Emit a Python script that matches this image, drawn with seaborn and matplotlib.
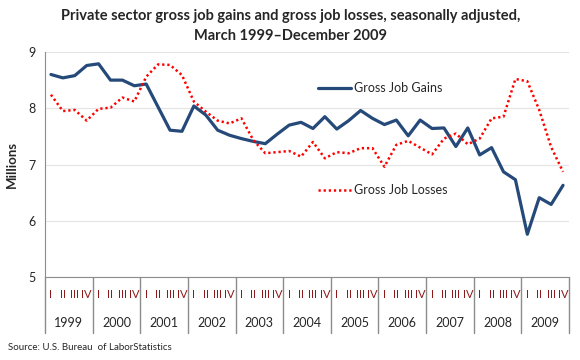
import numpy as np
import pandas as pd
import matplotlib.pyplot as plt
import matplotlib.transforms as mtransforms
from matplotlib.lines import Line2D
import seaborn as sns

# quarterly data, March 1999 - December 2009 (millions)
years = list(range(1999, 2010))
quarter_names = ["I", "II", "III", "IV"]

gains = [8.60, 8.54, 8.58, 8.76, 8.79, 8.50, 8.50, 8.40, 8.43, 8.02,
         7.61, 7.59, 8.04, 7.88, 7.61, 7.52, 7.46, 7.41, 7.37, 7.54,
         7.70, 7.75, 7.64, 7.85, 7.63, 7.78, 7.96, 7.82, 7.71, 7.79,
         7.51, 7.79, 7.64, 7.65, 7.32, 7.65, 7.17, 7.30, 6.87, 6.73,
         5.76, 6.41, 6.29, 6.63]

losses = [8.24, 7.95, 7.97, 7.78, 7.99, 8.01, 8.19, 8.12, 8.56, 8.78,
          8.77, 8.59, 8.12, 7.94, 7.78, 7.73, 7.82, 7.43, 7.20, 7.22,
          7.24, 7.14, 7.40, 7.11, 7.22, 7.20, 7.29, 7.29, 6.96, 7.35,
          7.42, 7.30, 7.18, 7.46, 7.55, 7.36, 7.46, 7.82, 7.85, 8.52,
          8.48, 7.97, 7.31, 6.87]

sns.set_style("white")
plt.rcParams['font.family'] = ['Lato', 'DejaVu Sans']

df = pd.DataFrame({
    "t": np.arange(len(gains)),
    "Gross Job Gains": gains,
    "Gross Job Losses": losses,
})

blue = "#254a7a"
red = "#ff0000"
dots = (0, (0.9, 1.15))

fig = plt.figure(figsize=(5.8, 3.6), dpi=100)
ax = fig.add_axes([45 / 580, 1 - 277 / 360, 524 / 580, 225 / 360])

sns.lineplot(data=df, x="t", y="Gross Job Gains", ax=ax, color=blue,
             linewidth=2.3)
sns.lineplot(data=df, x="t", y="Gross Job Losses", ax=ax, color=red,
             linewidth=1.8, linestyle=dots)

ax.set_xlim(-0.5, len(gains) - 0.5)
ax.set_ylim(5, 9)
ax.set_yticks([5, 6, 7, 8, 9])
ax.grid(axis="y", color="#e4e4e4", linewidth=0.8)
ax.set_axisbelow(True)
for side in ["top", "right"]:
    ax.spines[side].set_visible(False)
for side in ["left", "bottom"]:
    ax.spines[side].set_color("#8c8c8c")
ax.tick_params(axis="y", length=4, color="#8c8c8c", labelsize=9, pad=3)
ax.set_ylabel("Millions", fontsize=9.5, fontweight="bold", labelpad=7)
ax.set_xlabel("")

# quarter labels on the tick positions
ax.set_xticks(df["t"])
ax.set_xticklabels(quarter_names * len(years), fontsize=8, color="#8b1a1a")
ax.tick_params(axis="x", length=0, pad=9)

# year labels and separators below the axis
trans = mtransforms.blended_transform_factory(ax.transData, ax.transAxes)
for k, yr in enumerate(years):
    ax.text(4 * k + 1.5, -0.205, str(yr), transform=trans, ha="center",
            va="center", fontsize=9)
for k in range(len(years) + 1):
    ax.add_line(Line2D([4 * k - 0.5, 4 * k - 0.5], [0, -0.25], transform=trans,
                       color="#8c8c8c", linewidth=1, clip_on=False))

# two separate legend entries
h_gain = Line2D([], [], color=blue, linewidth=2.3)
h_loss = Line2D([], [], color=red, linewidth=1.8, linestyle=dots)
leg1 = ax.legend([h_gain], ["Gross Job Gains"], loc="center left",
                 bbox_to_anchor=(0.5, 0.84), frameon=False, fontsize=9,
                 handlelength=2.6, handletextpad=0.3)
ax.add_artist(leg1)
ax.legend([h_loss], ["Gross Job Losses"], loc="center left",
          bbox_to_anchor=(0.5, 0.385), frameon=False, fontsize=9,
          handlelength=2.6, handletextpad=0.3)

fig.text(291 / 580, 1 - 16 / 360,
         "Private sector gross job gains and gross job losses, seasonally adjusted,",
         ha="center", va="center", fontsize=10.5, fontweight="bold")
fig.text(291 / 580, 1 - 36 / 360, "March 1999\u2013December 2009",
         ha="center", va="center", fontsize=10.5, fontweight="bold")
fig.text(8 / 580, 1 - 348 / 360, "Source: U.S. Bureau  of LaborStatistics",
         ha="left", va="center", fontsize=7)

fig.savefig("out.png", dpi=100)
